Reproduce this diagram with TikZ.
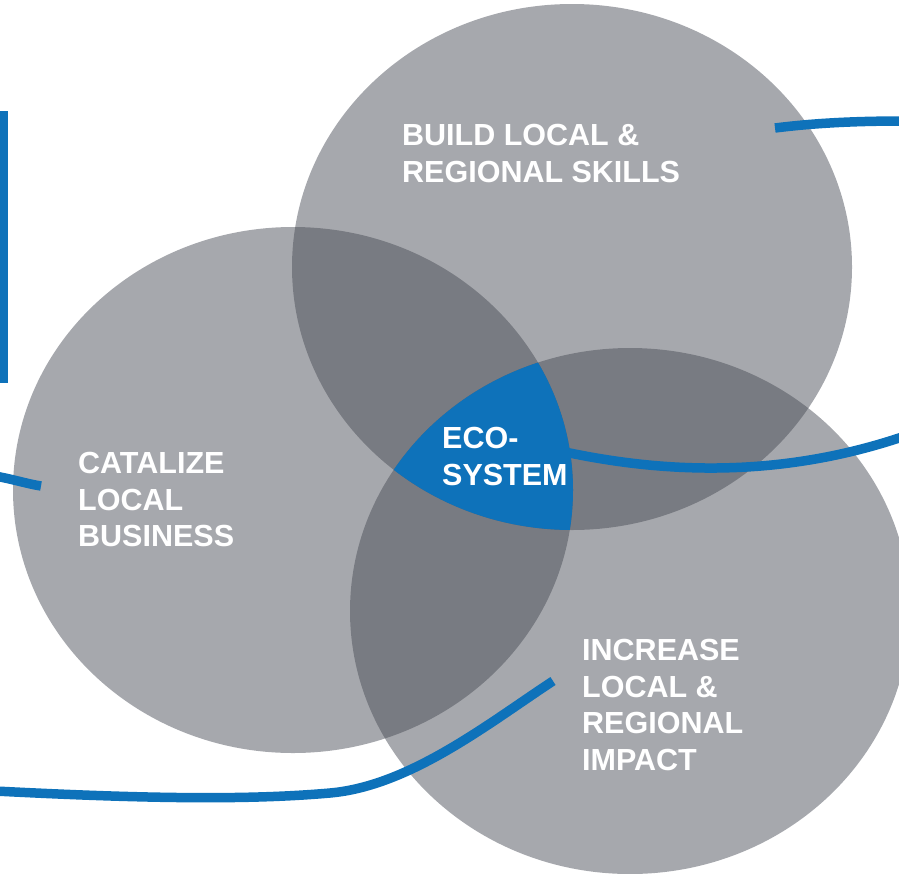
\documentclass[tikz,border=0pt]{standalone}
\usepackage{fontspec}
\setmainfont{Liberation Sans}
\usetikzlibrary{positioning}
\definecolor{ecoblue}{RGB}{14,114,186}
\definecolor{venngray}{RGB}{70,74,84}
\tikzset{
    venn/.style = {fill=venngray,fill opacity=0.48},
    vennshape/.style = {x radius=280pt,y radius=263pt},
    vtext/.style = {text=white,align=left,anchor=north west,inner sep=0pt,font=\bfseries\fontsize{30.5}{36.7}\selectfont},
    link/.style = {draw=ecoblue,line width=9.5pt},
}

\begin{document}
\begin{tikzpicture}[x=1pt,y=-1pt]
%
\path[use as bounding box] (0,0) rectangle (899,873);
%
\fill[venn] (572,267) ellipse [vennshape]; % skills
\fill[venn] (293,490) ellipse [vennshape]; % business
\fill[venn] (630,611) ellipse [vennshape]; % impact
%
\begin{scope}
\clip (572,267) ellipse [vennshape];
\clip (293,490) ellipse [vennshape];
\fill[ecoblue] (630,611) ellipse [vennshape];
\end{scope}
%
\fill[ecoblue] (0,111) rectangle (8,383);
%
\coordinate (tr1) at (775,128);
\coordinate (tr2) at (905,121);
\coordinate (mr1) at (565,452);
\coordinate (mr2) at (905,436);
\coordinate (lf1) at (-5,476);
\coordinate (lf2) at (41,486);
\coordinate (bt1) at (-5,791);
\coordinate (btm) at (330,793);
\coordinate (bt2) at (553,681);
%
\draw[link] (tr1) .. controls (815,123) and (855,121) .. (tr2);
\draw[link] (mr1) .. controls (650,470) and (770,482) .. (mr2);
\draw[link] (lf1) .. controls (12,479) and (28,484) .. (lf2);
\draw[link] (bt1) .. controls (150,799) and (250,800) .. (btm)
    .. controls (410,786) and (489,723) .. (bt2);
%
\node[vtext] at (402,124) (build) {BUILD LOCAL \&\\REGIONAL SKILLS};
\node[vtext] at (78,452) (catalize) {CATALIZE\\LOCAL\\BUSINESS};
\node[vtext] at (582,639) (increase) {INCREASE\\LOCAL \&\\REGIONAL\\IMPACT};
\node[vtext] at (442,427) (eco) {ECO-\\SYSTEM};
%
\end{tikzpicture}
\end{document}
